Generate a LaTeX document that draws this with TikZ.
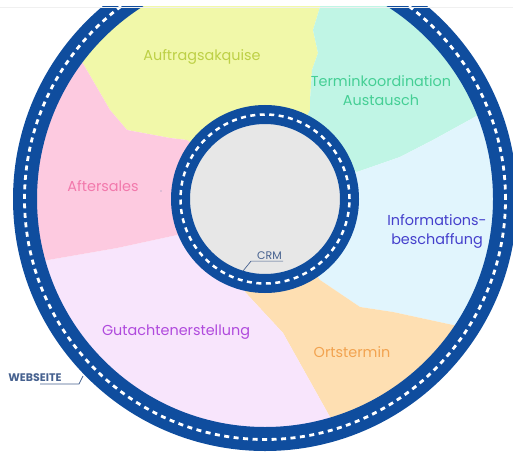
\documentclass[tikz,border=0pt]{standalone}
\usepackage{fontspec}
\setmainfont{Poppins}
\usepackage{tikz}
\usepackage{xcolor}
\definecolor{ringblue}{HTML}{0F4D9E}
\definecolor{akquisefill}{HTML}{F1F8A9}
\definecolor{terminfill}{HTML}{C0F5E5}
\definecolor{infofill}{HTML}{E1F5FD}
\definecolor{ortfill}{HTML}{FEDFB2}
\definecolor{gutachtenfill}{HTML}{F8E5FC}
\definecolor{afterfill}{HTML}{FDCAE0}
\definecolor{crmfill}{HTML}{E7E7E7}
\definecolor{akquisetext}{HTML}{BDD046}
\definecolor{termintext}{HTML}{45CF95}
\definecolor{infotext}{HTML}{4540CC}
\definecolor{orttext}{HTML}{F2A350}
\definecolor{gutachtentext}{HTML}{B04ADD}
\definecolor{aftertext}{HTML}{F279AC}
\definecolor{labeltext}{HTML}{46618F}
\tikzset{
    sector-label/.style = {align=center, inner sep=0pt, font=\fontsize{14.4}{19}\selectfont},
    road/.style = {draw=ringblue},
    road-marking/.style = {draw=white, dash pattern=on 5pt off 4.5pt},
    ring-label/.style = {text=labeltext, inner xsep=1pt, inner ysep=1.5pt, font=\fontsize{11}{12}\selectfont},
    leader-line/.style = {draw=labeltext, line width=0.7pt},
}

\begin{document}
\begin{tikzpicture}[x=1pt,y=-1pt]
\useasboundingbox (0,0) rectangle (513,454);
\coordinate (hub) at (265,199);
\begin{scope}
\clip (0,7) rectangle (513,454);
\begin{scope}
\clip (hub) circle[radius=236pt];
% Sektoren
\fill[akquisefill] (hub) -- (187,140) -- (170,138) -- (127,130) -- (110,110) -- (85,67) -- (40,-10)
    -- (40,-60) -- (323,-60) -- (323,-20) -- (320,7) -- (313,30) -- (318,53) -- (312,70) -- (310,100) -- (310,110) -- cycle;
\fill[terminfill] (hub) -- (310,110) -- (310,100) -- (312,70) -- (318,53) -- (313,30) -- (320,7) -- (323,-20)
    -- (323,-60) -- (560,-60) -- (560,80) -- (540,80) -- (473,118) -- (433,140) -- (400,157) -- (357,172) -- (350,170) -- cycle;
\fill[infofill] (hub) -- (350,170) -- (357,172) -- (400,157) -- (433,140) -- (473,118) -- (540,80)
    -- (560,80) -- (560,345) -- (540,345) -- (453,325) -- (393,312) -- (360,307) -- (320,280) -- cycle;
\fill[ortfill] (hub) -- (320,280) -- (360,307) -- (393,312) -- (453,325) -- (540,345)
    -- (560,345) -- (560,500) -- (350,500) -- (350,480) -- (330,417) -- (283,333) -- (245,292) -- cycle;
\fill[gutachtenfill] (hub) -- (245,292) -- (283,333) -- (330,417) -- (350,480)
    -- (350,500) -- (-40,500) -- (-40,272) -- (-20,272) -- (48,260) -- (117,248) -- (177,235) -- cycle;
\fill[afterfill] (hub) -- (177,235) -- (117,248) -- (48,260) -- (-20,272)
    -- (-40,272) -- (-40,-10) -- (40,-10) -- (85,67) -- (110,110) -- (127,130) -- (170,138) -- (187,140) -- cycle;
\end{scope}
% Webseite-Ring
\draw[road, line width=24pt] (hub) circle[radius=240pt];
\draw[road-marking, line width=2.8pt] (hub) circle[radius=240.5pt];
% CRM-Ring
\fill[crmfill] (hub) circle[radius=77pt];
\draw[road, line width=19pt] (hub) circle[radius=84.5pt];
\draw[road-marking, line width=2.5pt] (hub) circle[radius=84.5pt];
\end{scope}
\draw[gray!12, line width=0.6pt] (0,7) -- (513,7);

\node[sector-label, text=akquisetext] (akquise) at (202,57) {Auftragsakquise};
\node[sector-label, text=termintext] (termin) at (381,91) {Terminkoordination\\Austausch};
\node[sector-label, text=infotext] (info) at (437,231) {Informations-\\beschaffung};
\node[sector-label, text=orttext] (ort) at (352,352) {Ortstermin};
\node[sector-label, text=gutachtentext] (gutachten) at (176,332) {Gutachtenerstellung};
\node[sector-label, text=aftertext] (after) at (103,186) {Aftersales};
\fill[labeltext!70] (161,191) circle[radius=0.7pt];

% Beschriftung der Ringe
\node[ring-label] (crm) at (269.5,255.5) {CRM};
\coordinate (crm-tip) at (243,271);
\draw[leader-line] (crm-tip) -- ([xshift=-5pt]crm.south west) -- (crm.south east);
\node[ring-label, font=\fontsize{11}{12}\selectfont\bfseries] (web) at (35,378) {WEBSEITE};
\coordinate (web-tip) at (83,376);
\coordinate (web-knee) at (79,384);
\draw[leader-line] (web-tip) -- (web-knee) -- ([xshift=5pt]web.south |- web-knee);
\end{tikzpicture}
\end{document}
